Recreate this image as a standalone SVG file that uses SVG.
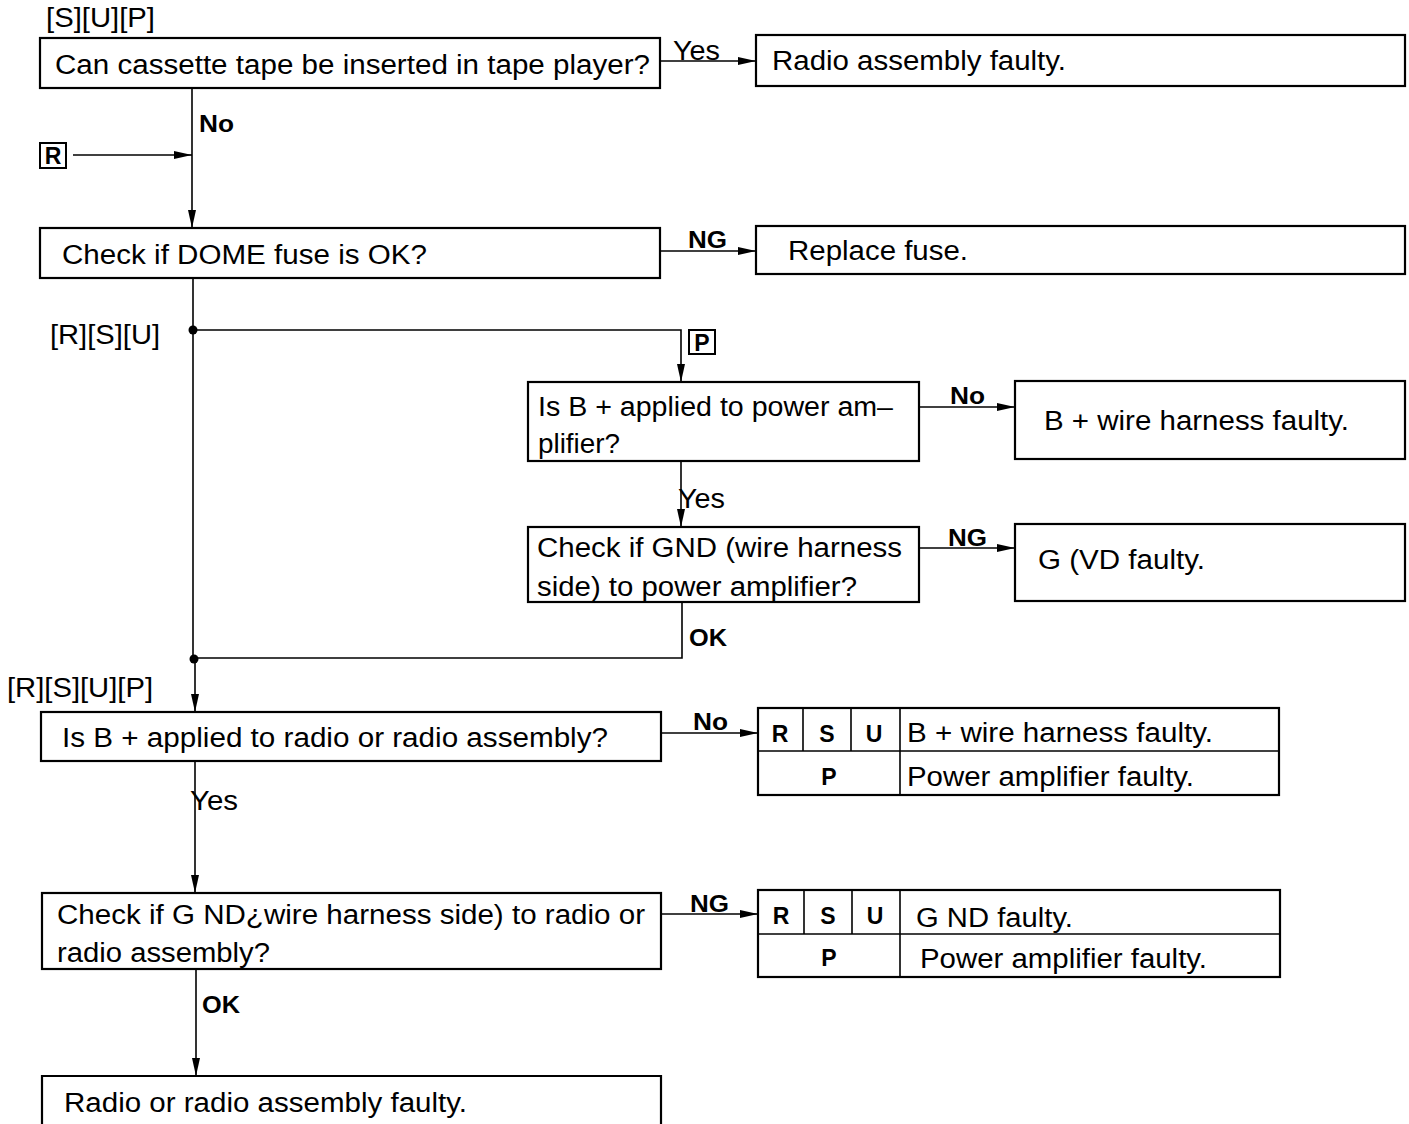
<svg xmlns="http://www.w3.org/2000/svg" width="1409" height="1124" viewBox="0 0 1409 1124">
<style>
.box{fill:#fff;stroke:#000;stroke-width:2.2}
.ln{fill:none;stroke:#000;stroke-width:1.6}
.t{font-family:"Liberation Sans",Arial,sans-serif;font-size:27px;fill:#000}
.b{font-family:"Liberation Sans",Arial,sans-serif;font-size:24px;font-weight:bold;fill:#000}
.c{font-family:"Liberation Sans",Arial,sans-serif;font-size:23px;font-weight:bold;fill:#000;text-anchor:middle}
</style>
<defs>
<marker id="ah" markerWidth="18" markerHeight="8" refX="18" refY="4" orient="auto" markerUnits="userSpaceOnUse">
<path d="M0,0 L18,4 L0,8 Z" fill="#000"/>
</marker>
</defs>
<rect width="1409" height="1124" fill="#fff"/>
<text class="t" x="46" y="27" textLength="109" lengthAdjust="spacingAndGlyphs">[S][U][P]</text>
<text class="t" x="50" y="344" textLength="110" lengthAdjust="spacingAndGlyphs">[R][S][U]</text>
<text class="t" x="7" y="697" textLength="146" lengthAdjust="spacingAndGlyphs">[R][S][U][P]</text>
<g id="connectors">
<line class="ln" x1="660" y1="61" x2="756" y2="61" marker-end="url(#ah)"/>
<line class="ln" x1="192" y1="88" x2="192" y2="228" marker-end="url(#ah)"/>
<line class="ln" x1="73" y1="155" x2="192" y2="155" marker-end="url(#ah)"/>
<line class="ln" x1="660" y1="251" x2="756" y2="251" marker-end="url(#ah)"/>
<line class="ln" x1="193" y1="278" x2="193" y2="658"/>
<polyline class="ln" points="193,330 681,330 681,382" marker-end="url(#ah)"/>
<circle cx="193" cy="330" r="4.5" fill="#000"/>
<line class="ln" x1="919" y1="407" x2="1015" y2="407" marker-end="url(#ah)"/>
<line class="ln" x1="681" y1="461" x2="681" y2="527" marker-end="url(#ah)"/>
<line class="ln" x1="919" y1="548" x2="1015" y2="548" marker-end="url(#ah)"/>
<polyline class="ln" points="682,602 682,658 193,658"/>
<circle cx="194" cy="659" r="4.5" fill="#000"/>
<line class="ln" x1="195" y1="658" x2="195" y2="712" marker-end="url(#ah)"/>
<line class="ln" x1="661" y1="733" x2="758" y2="733" marker-end="url(#ah)"/>
<line class="ln" x1="195" y1="761" x2="195" y2="893" marker-end="url(#ah)"/>
<line class="ln" x1="661" y1="914" x2="758" y2="914" marker-end="url(#ah)"/>
<line class="ln" x1="196" y1="969" x2="196" y2="1076" marker-end="url(#ah)"/>
<text class="t" x="673" y="60" textLength="47" lengthAdjust="spacingAndGlyphs">Yes</text>
<text class="b" x="199" y="132" textLength="35" lengthAdjust="spacingAndGlyphs">No</text>
<text class="b" x="688" y="248" textLength="39" lengthAdjust="spacingAndGlyphs">NG</text>
<text class="b" x="950" y="404" textLength="35" lengthAdjust="spacingAndGlyphs">No</text>
<text class="t" x="678" y="508" textLength="47" lengthAdjust="spacingAndGlyphs">Yes</text>
<text class="b" x="948" y="546" textLength="39" lengthAdjust="spacingAndGlyphs">NG</text>
<text class="b" x="689" y="646" textLength="38" lengthAdjust="spacingAndGlyphs">OK</text>
<text class="b" x="693" y="730" textLength="35" lengthAdjust="spacingAndGlyphs">No</text>
<text class="t" x="190" y="810" textLength="48" lengthAdjust="spacingAndGlyphs">Yes</text>
<text class="b" x="690" y="912" textLength="39" lengthAdjust="spacingAndGlyphs">NG</text>
<text class="b" x="202" y="1013" textLength="38" lengthAdjust="spacingAndGlyphs">OK</text>
</g>
<g id="refR">
<rect x="40" y="143" width="26" height="25" fill="none" stroke="#000" stroke-width="2"/>
<text class="c" x="53" y="164">R</text>
</g>
<g id="refP">
<rect x="689" y="330" width="26" height="24" fill="none" stroke="#000" stroke-width="2"/>
<text class="c" x="702" y="351">P</text>
</g>
<g id="n1">
<rect class="box" x="40" y="38" width="620" height="50"/>
<text class="t" x="55" y="74" textLength="595" lengthAdjust="spacingAndGlyphs">Can cassette tape be inserted in tape player?</text>
</g>
<g id="n2">
<rect class="box" x="756" y="35" width="649" height="51"/>
<text class="t" x="772" y="70" textLength="294" lengthAdjust="spacingAndGlyphs">Radio assembly faulty.</text>
</g>
<g id="n3">
<rect class="box" x="40" y="228" width="620" height="50"/>
<text class="t" x="62" y="264" textLength="365" lengthAdjust="spacingAndGlyphs">Check if DOME fuse is OK?</text>
</g>
<g id="n4">
<rect class="box" x="756" y="226" width="649" height="48"/>
<text class="t" x="788" y="260" textLength="180" lengthAdjust="spacingAndGlyphs">Replace fuse.</text>
</g>
<g id="n5">
<rect class="box" x="528" y="382" width="391" height="79"/>
<text class="t" x="538" y="416" textLength="355" lengthAdjust="spacingAndGlyphs">Is B + applied to power am–</text>
<text class="t" x="538" y="453" textLength="82" lengthAdjust="spacingAndGlyphs">plifier?</text>
</g>
<g id="n6">
<rect class="box" x="1015" y="381" width="390" height="78"/>
<text class="t" x="1044" y="430" textLength="305" lengthAdjust="spacingAndGlyphs">B + wire harness faulty.</text>
</g>
<g id="n7">
<rect class="box" x="528" y="527" width="391" height="75"/>
<text class="t" x="537" y="557" textLength="365" lengthAdjust="spacingAndGlyphs">Check if GND (wire harness</text>
<text class="t" x="537" y="596" textLength="320" lengthAdjust="spacingAndGlyphs">side) to power amplifier?</text>
</g>
<g id="n8">
<rect class="box" x="1015" y="524" width="390" height="77"/>
<text class="t" x="1038" y="569" textLength="167" lengthAdjust="spacingAndGlyphs">G (VD faulty.</text>
</g>
<g id="n9">
<rect class="box" x="41" y="712" width="620" height="49"/>
<text class="t" x="62" y="747" textLength="546" lengthAdjust="spacingAndGlyphs">Is B + applied to radio or radio assembly?</text>
</g>
<g id="n10">
<rect class="box" x="758" y="708" width="521" height="87"/>
<line class="ln" x1="758" y1="751" x2="1279" y2="751"/>
<line class="ln" x1="803" y1="708" x2="803" y2="751"/>
<line class="ln" x1="851" y1="708" x2="851" y2="751"/>
<line class="ln" x1="900" y1="708" x2="900" y2="795"/>
<text class="c" x="780" y="742">R</text>
<text class="c" x="827" y="742">S</text>
<text class="c" x="874" y="742">U</text>
<text class="c" x="829" y="785">P</text>
<text class="t" x="907" y="742" textLength="306" lengthAdjust="spacingAndGlyphs">B + wire harness faulty.</text>
<text class="t" x="907" y="786" textLength="287" lengthAdjust="spacingAndGlyphs">Power amplifier faulty.</text>
</g>
<g id="n11">
<rect class="box" x="42" y="893" width="619" height="76"/>
<text class="t" x="57" y="924" textLength="588" lengthAdjust="spacingAndGlyphs">Check if G ND¿wire harness side) to radio or</text>
<text class="t" x="57" y="962" textLength="213" lengthAdjust="spacingAndGlyphs">radio assembly?</text>
</g>
<g id="n12">
<rect class="box" x="758" y="890" width="522" height="87"/>
<line class="ln" x1="758" y1="934" x2="1280" y2="934"/>
<line class="ln" x1="804" y1="890" x2="804" y2="934"/>
<line class="ln" x1="852" y1="890" x2="852" y2="934"/>
<line class="ln" x1="900" y1="890" x2="900" y2="977"/>
<text class="c" x="781" y="924">R</text>
<text class="c" x="828" y="924">S</text>
<text class="c" x="875" y="924">U</text>
<text class="c" x="829" y="966">P</text>
<text class="t" x="916" y="927" textLength="157" lengthAdjust="spacingAndGlyphs">G ND faulty.</text>
<text class="t" x="920" y="968" textLength="287" lengthAdjust="spacingAndGlyphs">Power amplifier faulty.</text>
</g>
<g id="n13">
<path class="box" d="M42,1130 L42,1076 L661,1076 L661,1130"/>
<text class="t" x="64" y="1112" textLength="403" lengthAdjust="spacingAndGlyphs">Radio or radio assembly faulty.</text>
</g>
</svg>
